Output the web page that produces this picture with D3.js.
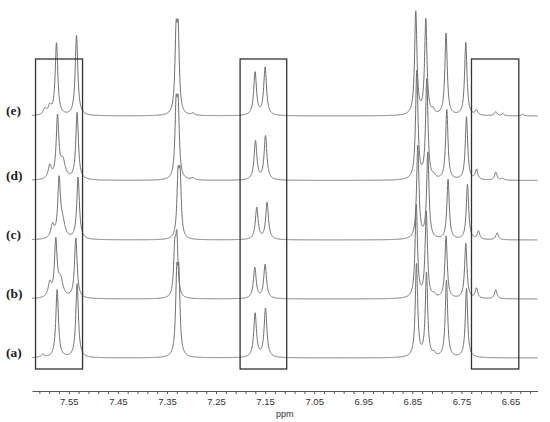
<!DOCTYPE html>
<html>
<head>
<meta charset="utf-8">
<script src="https://cdn.jsdelivr.net/npm/d3@7"></script>
<style>
  body { margin: 0; background: #fff; }
  svg { display: block; }
</style>
</head>
<body>
<div id="chart"></div>
<script>
// spectra labels, bottom to top
const traceLabels = ["(a)", "(b)", "(c)", "(d)", "(e)"];

// peak lists: [ppm, height, half width (ppm)]
const peaksA = [
  [7.603, 3, 0.004], [7.5738, 68, 0.0032], [7.5331, 74, 0.0032],
  [7.3300, 72, 0.0028], [7.3258, 72, 0.0028],
  [7.1704, 44, 0.0034], [7.1492, 49, 0.0034],
  [6.8416, 93, 0.0029], [6.8212, 84, 0.0029], [6.806, 3, 0.003], [6.7805, 77, 0.0029], [6.7397, 69, 0.0029]
];
const peaksB = [
  [7.5887, 14, 0.004], [7.5765, 55, 0.0032], [7.5669, 18, 0.006], [7.5357, 60, 0.0032],
  [7.3341, 44, 0.0028], [7.3299, 55, 0.0028],
  [7.171, 31, 0.0034], [7.15, 34, 0.0034],
  [6.842, 93, 0.0029], [6.8216, 86, 0.0029], [6.806, 3, 0.003], [6.7813, 62, 0.0029], [6.7411, 55, 0.0029],
  [6.7193, 10, 0.003], [6.68, 9, 0.003]
];
const peaksC = [
  [7.5832, 13, 0.004], [7.5698, 56, 0.0032], [7.5628, 16, 0.006], [7.5311, 62, 0.0032],
  [7.3274, 56, 0.0028], [7.3232, 56, 0.0028],
  [7.167, 32, 0.0034], [7.146, 37, 0.0034],
  [6.8389, 93, 0.0029], [6.8185, 86, 0.0029], [6.7772, 60, 0.0029], [6.7377, 55, 0.0029],
  [6.7152, 8, 0.003], [6.6773, 7, 0.003]
];
const peaksD = [
  [7.5887, 13, 0.004], [7.573, 61, 0.0032], [7.5622, 18, 0.006], [7.5331, 67, 0.0032],
  [7.3314, 65, 0.0028], [7.3272, 65, 0.0028], [7.297, 2, 0.004],
  [7.1696, 39, 0.0034], [7.1492, 44, 0.0034],
  [6.841, 108, 0.0029], [6.8206, 99, 0.0029], [6.806, 3, 0.003], [6.7798, 70, 0.0029], [6.7397, 63, 0.0029],
  [6.7193, 10, 0.003], [6.68, 8, 0.003], [6.666, 2, 0.003]
];
const peaksE = [
  [7.5989, 6, 0.004], [7.5887, 8, 0.004], [7.5751, 72, 0.0032], [7.5343, 80, 0.0032],
  [7.3314, 73, 0.0028], [7.3272, 73, 0.0028], [7.297, 2, 0.004],
  [7.1704, 43, 0.0034], [7.15, 48, 0.0034],
  [6.843, 103, 0.0029], [6.8226, 95, 0.0029], [6.8077, 4, 0.003], [6.7813, 82, 0.0029], [6.7411, 73, 0.0029],
  [6.7193, 5, 0.003], [6.68, 4, 0.003], [6.6657, 2, 0.003], [6.6256, 1.5, 0.003]
];

// vertical stacking of each trace (intensity units)
const traceOffsets = [0, 59, 118, 177.5, 242];

// highlighted regions [ppm from, ppm to]
const boxRanges = [[7.6178, 7.522], [7.201, 7.106], [6.7295, 6.6331]];
const boxIntensity = [-11, 299];

const tickLabels = [7.55, 7.45, 7.35, 7.25, 7.15, 7.05, 6.95, 6.85, 6.75, 6.65];
const ppmRange = [7.625, 6.595];

const spectra = [peaksA, peaksB, peaksC, peaksD, peaksE];

function StackedSpectra(container) {
  const width = 550, height = 422;

  const svg = d3.select(container).append("svg")
      .attr("width", width)
      .attr("height", height);

  const xScale = d3.scaleLinear().domain(ppmRange).range([32, 537.5]);
  const yScale = d3.scaleLinear().domain([0, 358]).range([358, 0]);

  // lorentzian line shape from the peak list
  function shape(peaks, ppm) {
    let s = 0;
    for (const [c, h, w] of peaks) {
      const t = (ppm - c) / w;
      s += h / (1 + t * t);
    }
    return s;
  }

  const grid = d3.range(ppmRange[0], ppmRange[1], -0.0004);

  const line = d3.line()
      .x(d => xScale(d[0]))
      .y(d => yScale(d[1]));

  svg.append("g")
      .attr("class", "traces")
    .selectAll("path")
    .data(spectra)
    .join("path")
      .attr("fill", "none")
      .attr("stroke", "#707070")
      .attr("stroke-width", 1)
      .attr("stroke-linejoin", "round")
      .attr("d", (peaks, i) => line(grid.map(p => [p, traceOffsets[i] + shape(peaks, p)])));

  svg.append("g")
      .attr("class", "labels")
    .selectAll("text")
    .data(traceLabels)
    .join("text")
      .attr("x", 6)
      .attr("y", (d, i) => yScale(traceOffsets[i]) - 1)
      .attr("font-family", "'Liberation Serif', serif")
      .attr("font-weight", "bold")
      .attr("font-size", 13.5)
      .attr("fill", "#222")
      .text(d => d);

  svg.append("g")
      .attr("class", "boxes")
    .selectAll("rect")
    .data(boxRanges)
    .join("rect")
      .attr("x", d => xScale(d[0]))
      .attr("width", d => xScale(d[1]) - xScale(d[0]))
      .attr("y", yScale(boxIntensity[1]))
      .attr("height", yScale(boxIntensity[0]) - yScale(boxIntensity[1]))
      .attr("fill", "none")
      .attr("stroke", "#333")
      .attr("stroke-width", 1.3);

  const labelSet = new Set(tickLabels.map(d => d.toFixed(2)));
  const minorTicks = d3.range(7.61, 6.60, -0.02);

  const xAxis = d3.axisBottom(xScale)
      .tickValues(minorTicks)
      .tickSize(3)
      .tickSizeOuter(0)
      .tickPadding(4)
      .tickFormat(d => labelSet.has(d.toFixed(2)) ? d.toFixed(2) : "");

  const axisG = svg.append("g")
      .attr("class", "axis x-axis")
      .attr("transform", "translate(0, 391)")
      .call(xAxis);

  axisG.select(".domain").attr("stroke", "#555");
  axisG.selectAll(".tick line").attr("stroke", "#555");
  axisG.selectAll(".tick text")
      .attr("font-family", "'Liberation Sans', sans-serif")
      .attr("font-size", 9.5)
      .attr("fill", "#333");

  svg.append("text")
      .attr("x", (xScale.range()[0] + xScale.range()[1]) / 2)
      .attr("y", 417)
      .attr("text-anchor", "middle")
      .attr("font-family", "'Liberation Sans', sans-serif")
      .attr("font-size", 9)
      .attr("fill", "#333")
      .text("ppm");
}

StackedSpectra("#chart");
</script>
</body>
</html>
